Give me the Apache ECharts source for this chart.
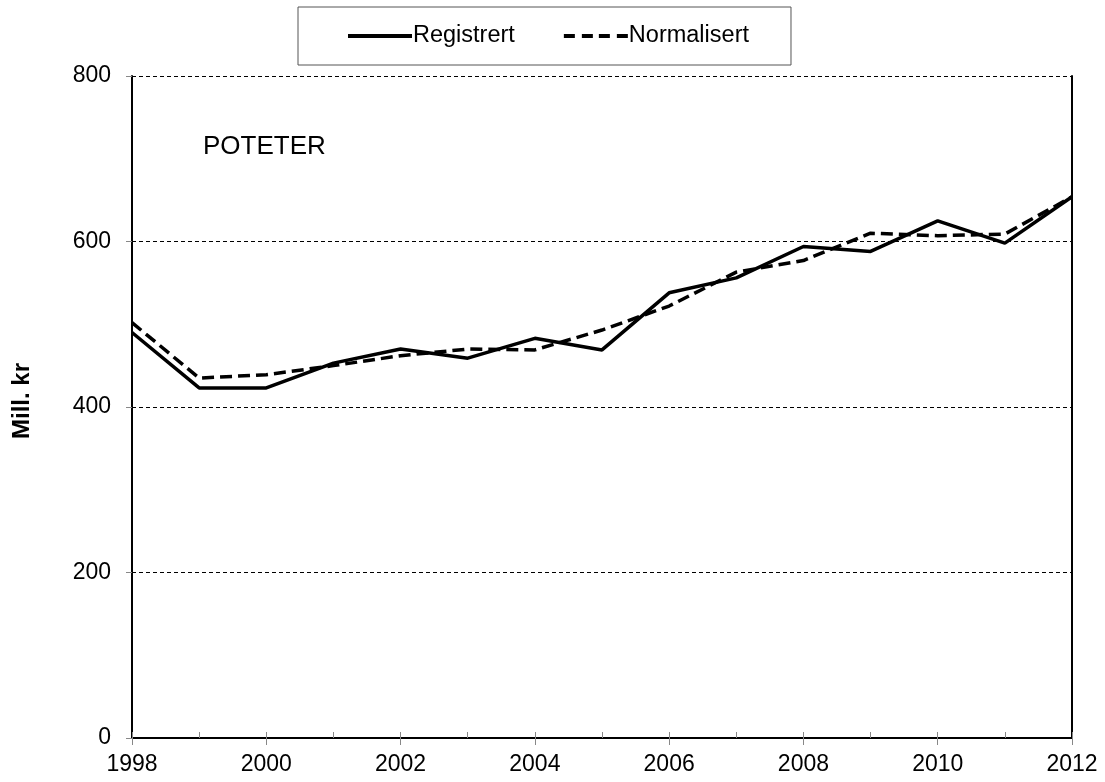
<!DOCTYPE html>
<html>
<head>
<meta charset="utf-8">
<script src="https://cdn.jsdelivr.net/npm/echarts@6/dist/echarts.min.js"></script>
<style>
  html, body { margin: 0; padding: 0; background: #fff; }
  #chart { width: 1105px; height: 782px; }
</style>
</head>
<body>
<div id="chart"></div>
<script>
// years and the two series (Mill. kr)
const years = [1998, 1999, 2000, 2001, 2002, 2003, 2004, 2005, 2006, 2007, 2008, 2009, 2010, 2011, 2012]
const registrert = [490, 423, 423, 453, 470, 459, 483, 469, 538, 556, 594, 588, 625, 598, 654]
const normalisert = [502, 435, 439, 450, 462, 470, 469, 493, 522, 563, 577, 610, 607, 609, 654]

const font = 'Liberation Sans, Arial, sans-serif'
const solidIcon = 'path://M0,0H64V4H0Z'
const dashIcon = 'path://M0,0H11V4H0Z M18,0H29V4H18Z M35,0H46V4H35Z M53,0H64V4H53Z'

const chart = echarts.init(document.getElementById('chart'))

chart.setOption({
  animation: false,
  textStyle: { fontFamily: font },
  grid: { left: 132, right: 33, top: 76, bottom: 44 },
  legend: {
    top: 7, left: 298,
    padding: [17, 42, 17, 50],
    itemWidth: 64, itemHeight: 4, itemGap: 49,
    borderColor: '#555', borderWidth: 1,
    textStyle: { fontSize: 23.5, color: '#000', padding: [0, 0, 0, -4] },
    data: [
      { name: 'Registrert', icon: solidIcon },
      { name: 'Normalisert', icon: dashIcon },
    ],
  },
  graphic: [{
    type: 'text', left: 203, top: 134,
    style: { text: 'POTETER', fontSize: 26, fill: '#000', fontFamily: font },
  }],
  xAxis: [{
    type: 'value', min: 1998, max: 2012, interval: 2,
    axisLine: { lineStyle: { color: '#000', width: 2 } },
    axisTick: { length: 7, lineStyle: { color: '#888' } },
    axisLabel: { fontSize: 23, color: '#000', margin: 15, formatter: v => String(v) },
    splitLine: { show: false },
  }, {
    // inner ticks for every year
    type: 'value', min: 1998, max: 2012, interval: 1, position: 'bottom',
    axisLine: { show: false },
    axisTick: { show: true, inside: true, length: 6, lineStyle: { color: '#888' } },
    axisLabel: { show: false },
    splitLine: { show: false },
  }],
  yAxis: [{
    type: 'value', min: 0, max: 800, interval: 200,
    name: 'Mill. kr', nameLocation: 'middle', nameGap: 98, nameRotate: 90,
    nameTextStyle: { fontSize: 24, fontWeight: 'bold', color: '#000', padding: [0, 0, 0, 12] },
    axisLine: { show: true, lineStyle: { color: '#000', width: 2 } },
    axisTick: { show: true, length: 6, lineStyle: { color: '#888' } },
    axisLabel: { fontSize: 23, color: '#000', margin: 21 },
    splitLine: { lineStyle: { color: '#000', type: [4, 3], width: 1 } },
  }, {
    type: 'value', min: 0, max: 800, position: 'right',
    axisLine: { show: true, lineStyle: { color: '#000', width: 2 } },
    axisTick: { show: false }, axisLabel: { show: false }, splitLine: { show: false },
  }],
  series: [
    {
      name: 'Registrert', type: 'line', symbol: 'none',
      data: years.map((y, i) => [y, registrert[i]]),
      lineStyle: { color: '#000', width: 3.5 },
      itemStyle: { color: '#000' },
      z: 3,
    },
    {
      name: 'Normalisert', type: 'line', symbol: 'none',
      data: years.map((y, i) => [y, normalisert[i]]),
      lineStyle: { color: '#000', width: 3.5, type: [12, 6] },
      itemStyle: { color: '#000' },
      z: 2,
    },
  ],
})
</script>
</body>
</html>
